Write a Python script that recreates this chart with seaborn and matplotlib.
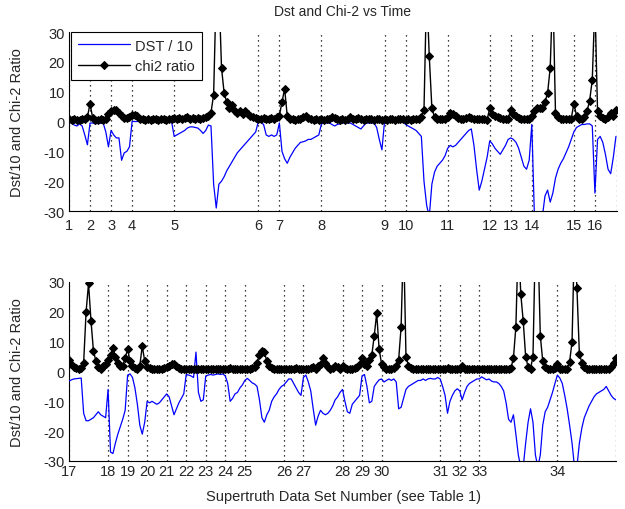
import matplotlib
matplotlib.use("Agg")
import matplotlib.pyplot as plt
import numpy as np
import pandas as pd
import seaborn as sns

# samples every 3 hours (8 per day); one row per day
dst_top = [
    -0.3, -0.5, -1.2, -1.5, -0.8, -1.5, -4.5, -7.8,
    -0.5, -0.5, -0.8, -0.5, -0.6, -0.5, -3.5, -8.5,
    -3.0, -4.5, -5.5, -5.5, -13.0, -10.5, -10.0, -8.5,
    0.0, 0.0, 0.0, 0.0, 0.0, 0.0, 0.0, 0.0,
    0.0, 0.0, 0.0, 0.0, 0.0, 0.0, 0.0, 0.0,
    -5.0, -4.5, -4.0, -3.5, -3.0, -2.2, -1.8, -1.8,
    -2.0, -2.2, -3.0, -4.0, -3.0, -1.2, -1.5, -21.0,
    -29.0, -21.0, -20.0, -18.5, -16.5, -15.0, -13.5, -12.0,
    -10.5, -9.5, -8.5, -7.5, -6.5, -5.5, -4.5, -3.5,
    0.0, -0.3, -1.0, -4.5, -5.0, -4.5, -5.0, -4.5,
    -0.5, -10.0, -12.5, -14.0, -12.0, -10.5, -9.0, -8.0,
    -7.0, -6.8, -6.5, -6.0, -6.0, -5.5, -5.0, -4.5,
    -0.8, -0.5, -0.5, -0.5, -1.0, -1.5, -1.0, -0.8,
    -0.5, -0.5, -0.5, -0.5, -1.0, -1.5, -2.0, -2.5,
    -1.5, -0.5, -0.5, -0.5, -0.5, -2.0, -6.0, -9.5,
    0.0, 0.0, 0.0, 0.0, 0.0, 0.0, 0.0, 0.0,
    -1.0, -1.5, -2.0, -2.5, -3.0, -4.0, -5.0, -20.0,
    -28.0, -32.0, -21.0, -17.0, -15.0, -14.0, -13.0, -11.5,
    -9.0, -8.0, -8.5, -8.0, -7.0, -6.0, -5.0, -4.0,
    -3.0, -2.5, -8.0, -16.0, -23.0, -20.0, -16.0, -12.0,
    -6.5, -7.5, -9.0, -10.0, -11.0, -9.5, -8.0, -6.0,
    -5.5, -6.0, -7.0, -9.0, -12.0, -15.0, -16.0, -13.0,
    -1.0, -32.0, -32.0, -32.0, -32.0, -25.0, -23.0, -27.0,
    -24.0, -19.0, -16.0, -14.0, -12.5, -10.5, -8.5, -6.0,
    -3.5, -2.0, -1.5, -1.0, -1.0, -0.8, -0.8, -1.5,
    -24.0, -6.0, -5.0, -7.0, -11.0, -16.0, -17.5, -12.0,
    -5.0,
]
chi2_top = [
    0.8, 0.6, 0.7, 0.5, 0.6, 0.8, 0.7, 1.5,
    6.0, 1.2, 0.6, 0.5, 0.7, 0.6, 0.8, 2.5,
    3.5, 4.0, 4.0, 3.0, 1.8, 1.2, 1.3, 1.5,
    2.2, 2.3, 1.8, 1.0, 0.8, 0.6, 0.8, 0.6,
    0.7, 0.9, 0.6, 0.8, 0.7, 0.6, 0.9, 0.7,
    1.2, 1.0, 1.3, 0.9, 1.1, 1.4, 1.0, 1.2,
    1.0, 1.3, 0.9, 1.2, 1.5, 1.8, 3.0, 9.0,
    45.0, 45.0, 18.0, 9.5, 6.5, 4.5, 5.5, 3.5,
    3.0, 3.5, 2.5, 3.5, 2.5, 2.0, 1.6, 1.3,
    1.0, 0.8, 1.1, 0.7, 0.9, 1.2, 0.8, 1.5,
    2.0, 6.5, 11.0, 1.8, 1.0, 0.8, 0.6, 0.7,
    0.9, 1.5, 1.8, 1.2, 0.8, 0.6, 0.7, 0.6,
    0.8, 0.6, 0.9, 0.7, 1.4, 1.2, 0.8, 0.6,
    0.7, 0.6, 0.8, 1.5, 0.9, 0.7, 1.3, 0.8,
    0.6, 0.8, 0.7, 0.9, 0.6, 0.7, 0.8, 0.6,
    0.7, 0.6, 0.8, 0.7, 0.6, 0.9, 0.7, 0.8,
    0.6, 0.7, 0.6, 0.8, 0.9, 1.0, 1.5, 4.0,
    45.0, 22.0, 4.5, 1.5, 1.0, 0.8, 0.7, 0.9,
    1.5, 2.8, 2.5, 2.0, 1.3, 1.0, 0.8, 1.2,
    1.5, 1.2, 0.8, 0.7, 0.9, 0.8, 0.7, 0.6,
    4.5, 2.5, 2.0, 1.5, 1.2, 1.0, 0.8, 1.0,
    4.0, 2.5, 1.8, 1.2, 1.0, 0.8, 0.9, 0.8,
    2.0, 3.5, 4.5, 4.5, 4.5, 6.5, 9.5, 18.0,
    45.0, 3.0, 1.5, 1.0, 0.8, 0.7, 0.8, 1.0,
    6.0, 2.0, 1.0, 0.8, 1.5, 3.5, 7.0, 14.0,
    40.0, 3.5, 2.0, 1.2, 1.0, 1.5, 3.0, 2.0,
    4.0,
]
dst_bot = [
    -3.2, -2.8, -2.5, -2.4, -2.3, -2.2, -14.0, -16.5,
    -16.5, -16.0, -15.5, -14.5, -13.5, -14.5, -15.0, -15.5,
    -6.0, -27.0, -27.5, -24.0, -21.0, -18.5, -16.0, -13.0,
    -1.2, -0.8, -2.0, -5.5, -11.0, -18.0, -21.0, -17.0,
    -10.0, -10.5, -10.0, -10.5, -11.0, -10.5, -9.5, -8.5,
    -7.5, -8.5, -11.5, -14.5, -12.5, -10.5, -9.0, -7.5,
    -1.0, -1.2, -1.5, -2.0, 6.5, -7.0, -10.0, -9.5,
    -1.5, -1.2, -1.0, -1.2, -1.0, -0.8, -1.0, -0.8,
    -1.5, -4.0, -10.0, -9.0, -7.5, -7.0, -5.5, -4.5,
    -3.0, -2.3, -3.0, -3.8, -4.2, -5.0, -9.5, -15.5,
    -17.0, -14.5, -13.0, -10.0, -8.5, -7.5, -6.0, -5.0,
    -4.5, -3.5, -2.5, -2.5, -4.0, -5.5, -7.0, -8.0,
    -2.0, -1.2, -3.5, -6.5, -12.5, -18.0, -15.0, -13.0,
    -14.0, -14.5, -14.0, -13.0, -11.5, -9.5, -8.5, -7.0,
    -6.0, -10.0, -13.5, -14.0, -11.0, -10.0, -9.0, -8.0,
    -1.5, -1.0, -5.0, -10.5, -10.0, -5.0, -3.8, -2.8,
    -2.5, -3.5, -3.0, -2.5, -3.0, -2.5, -3.5, -12.5,
    -12.0, -9.0, -6.0, -5.0, -4.5, -4.0, -3.5, -3.0,
    -3.0, -2.5, -3.0, -2.5, -2.3, -2.5, -2.5, -2.0,
    -2.5, -5.0, -8.0, -14.0, -10.0, -8.0, -6.5, -5.8,
    -6.5, -9.5, -7.0, -5.0, -4.0, -3.5, -3.0, -2.5,
    -2.5, -1.8, -2.3, -2.8, -2.5, -3.2, -3.5, -3.5,
    -4.0, -5.0, -6.5, -10.5, -16.0, -17.0, -14.5, -21.0,
    -28.0, -32.0, -32.0, -24.0, -17.0, -12.5, -17.0, -28.0,
    -32.0, -28.0, -18.0, -13.5, -12.0, -9.5, -7.0, -4.0,
    -1.2, -2.2, -4.0, -8.0, -12.5, -18.0, -24.0, -32.0,
    -32.0, -24.0, -19.0, -15.5, -13.5, -11.5, -10.0, -8.5,
    -7.5, -7.0, -6.5, -6.0, -5.0, -6.5, -8.0, -9.0,
    -9.5,
]
chi2_bot = [
    3.8, 2.5, 1.5, 1.2, 1.0, 1.3, 3.0, 20.0,
    29.5, 17.0, 7.0, 3.5, 1.5, 1.0, 2.0, 2.5,
    4.0, 5.5, 8.0, 5.0, 3.0, 2.0, 2.0, 4.5,
    7.5, 3.5, 1.8, 1.2, 1.0, 2.0, 8.5, 3.5,
    1.5, 1.2, 1.0, 0.8, 1.0, 0.8, 1.0, 1.2,
    1.5, 2.0, 2.5, 2.5, 1.8, 1.3, 1.0, 0.8,
    0.8, 1.0, 0.7, 0.8, 1.0, 0.8, 1.0, 0.8,
    0.8, 1.0, 0.8, 0.7, 0.9, 0.8, 1.0, 0.9,
    0.8, 1.0, 1.2, 0.9, 0.8, 1.0, 0.9, 0.8,
    0.9, 0.8, 1.0, 1.2, 1.5, 3.0, 5.5, 7.0,
    6.5, 3.5, 1.8, 1.2, 1.0, 0.8, 1.0, 0.9,
    0.8, 1.0, 0.9, 0.8, 1.0, 1.2, 0.9, 1.0,
    1.0, 0.8, 1.0, 1.2, 1.5, 1.0, 1.8, 2.5,
    4.5, 3.0, 1.5, 1.0, 1.2, 2.0, 1.5, 1.0,
    2.0, 1.2, 1.0, 0.8, 1.0, 1.2, 1.5, 2.5,
    4.5, 2.5, 2.0, 3.8, 5.5, 12.0, 19.5, 7.5,
    2.5, 1.5, 1.0, 0.8, 1.0, 1.2, 2.0, 4.0,
    15.0, 45.0, 5.0, 2.0, 1.2, 1.0, 0.8, 1.0,
    0.8, 1.0, 0.9, 0.8, 1.0, 0.8, 0.9, 1.0,
    0.8, 1.0, 0.8, 1.2, 0.9, 0.8, 1.0, 0.8,
    1.0, 1.8, 1.0, 0.8, 0.9, 0.8, 1.0, 0.8,
    1.0, 0.8, 1.0, 0.9, 1.0, 0.8, 1.0, 0.9,
    1.0, 0.8, 1.0, 0.9, 1.0, 1.2, 4.5, 15.0,
    45.0, 26.0, 17.0, 5.0, 1.5, 1.0, 5.0, 45.0,
    45.0, 12.0, 3.5, 1.5, 1.0, 0.8, 1.0, 1.2,
    2.5, 1.0, 0.8, 0.9, 1.0, 3.2, 10.0, 45.0,
    28.0, 6.0, 3.0, 1.5, 1.0, 0.8, 1.0, 0.9,
    0.8, 1.0, 0.9, 0.8, 1.0, 0.9, 1.5, 3.0,
    4.5,
]

# data set boundaries (days from panel start) and their labels
top_ticks = [0, 1, 2, 3, 5, 9, 10, 12, 15, 16, 18, 20, 21, 22, 24, 25, 26.05]
top_labels = ["1", "2", "3", "4", "5", "6", "7", "8", "9", "10",
              "11", "12", "13", "14", "15", "16", ""]
bot_ticks = [0, 2, 3, 4, 5, 6, 7, 8, 9, 11, 12, 14, 15, 16, 19, 20, 21, 25, 28]
bot_labels = ["17", "18", "19", "20", "21", "22", "23", "24", "25", "26",
              "27", "28", "29", "30", "31", "32", "33", "34", ""]

sns.set_style("white")
plt.rcParams['font.family'] = ['Liberation Sans', 'DejaVu Sans']
plt.rcParams['axes.unicode_minus'] = False

fig = plt.figure(figsize=(6.25, 5.1), dpi=100)
ax_top = fig.add_axes([69 / 625, 1 - 212 / 510, 548 / 625, 179 / 510])
ax_bot = fig.add_axes([69 / 625, 1 - 462 / 510, 547 / 625, 179 / 510])


def draw_panel(ax, dst, chi2, ticks, labels, xmax, legend=False):
    df = pd.DataFrame({"day": np.arange(len(dst)) / 8, "dst": dst, "chi2": chi2})
    sns.lineplot(data=df, x="day", y="dst", ax=ax, color="#0000ff", lw=0.9,
                 estimator=None, sort=False, label="DST / 10", zorder=3)
    sns.lineplot(data=df, x="day", y="chi2", ax=ax, color="black", lw=1.0,
                 marker="D", markersize=3.7, markeredgecolor="black",
                 estimator=None, sort=False, label="chi2 ratio", zorder=4)
    ax.set_xlim(0, xmax)
    ax.set_ylim(-30, 30)
    ax.set_yticks(np.arange(-30, 31, 10))
    ax.set_xticks(ticks)
    ax.set_xticklabels(labels)
    ax.grid(axis="x", linestyle=(0, (1, 3)), color="black", lw=0.9)
    ax.set_axisbelow(True)
    ax.tick_params(direction="in", length=4, width=0.8, labelsize=10.5, pad=3)
    ax.set_ylabel("Dst/10 and Chi-2 Ratio", fontsize=10.5)
    ax.yaxis.set_label_coords(-0.082, 0.5)
    ax.set_xlabel("")
    sns.despine(ax=ax)
    for s in ["left", "bottom"]:
        ax.spines[s].set_color("black")
        ax.spines[s].set_linewidth(0.8)
    if legend:
        leg = ax.legend(loc="upper left", bbox_to_anchor=(0.004, 1.0),
                        borderaxespad=0.0, fontsize=10.5, handlelength=3.6,
                        handletextpad=0.35, labelspacing=0.45, borderpad=0.45,
                        fancybox=False, framealpha=1, edgecolor="black")
        leg.get_frame().set_linewidth(0.8)
    else:
        ax.get_legend().remove()


draw_panel(ax_top, dst_top, chi2_top, top_ticks, top_labels, 26.05, legend=True)
draw_panel(ax_bot, dst_bot, chi2_bot, bot_ticks, bot_labels, 28.0)
ax_top.tick_params(axis="x", pad=5)
ax_bot.tick_params(axis="x", pad=2)

fig.text(343 / 625, 1 - 12 / 510, "Dst and Chi-2 vs Time", ha="center",
         va="center", fontsize=10)
fig.text(343 / 625, 1 - 497 / 510, "Supertruth Data Set Number (see Table 1)",
         ha="center", va="center", fontsize=10.5)

fig.savefig("out.png", dpi=100)
